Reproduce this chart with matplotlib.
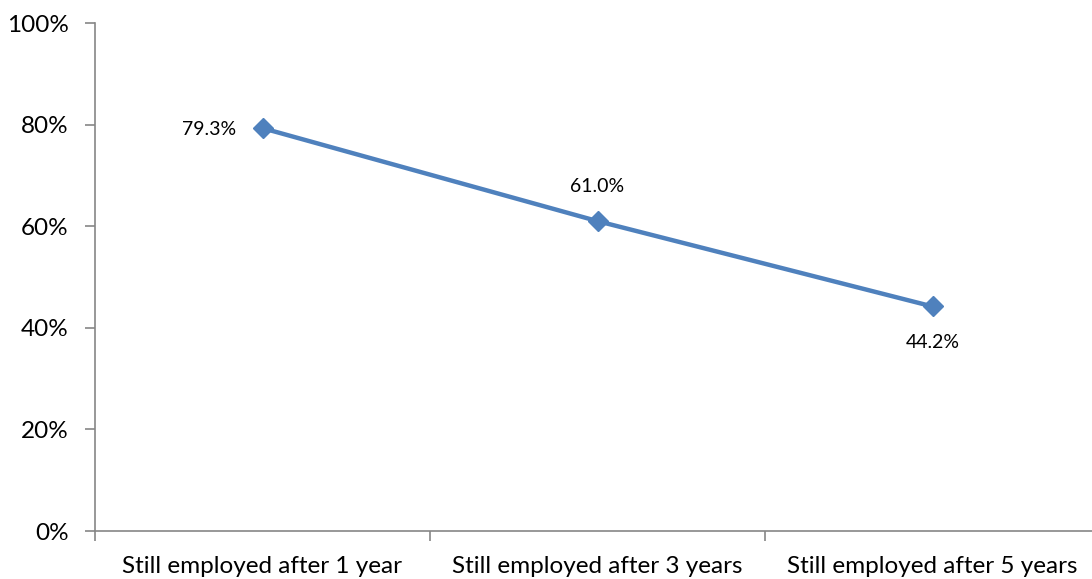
import matplotlib
matplotlib.use("Agg")
import matplotlib.pyplot as plt
from matplotlib.ticker import FuncFormatter

categories = ["Still employed after 1 year", "Still employed after 3 years", "Still employed after 5 years"]
values = [79.3, 61.0, 44.2]
value_labels = ["79.3%", "61.0%", "44.2%"]
yticks = [0, 20, 40, 60, 80, 100]

plt.rcParams['font.family'] = ['Lato', 'DejaVu Sans']

W, H = 1092, 579
fig = plt.figure(figsize=(W/100, H/100), dpi=100)
ax = fig.add_axes([95/W, 1 - 531/H, 1005/W, (531-23)/H])

x = list(range(len(categories)))
ax.plot(x, values, color="#4F81BD", linewidth=3.2, marker="D", markersize=10,
        markerfacecolor="#4F81BD", markeredgecolor="#4F81BD", zorder=3, clip_on=False)

# data labels
ax.annotate(value_labels[0], (x[0], values[0]), xytext=(-19, -1), textcoords="offset points",
            ha="right", va="center", fontsize=14)
ax.annotate(value_labels[1], (x[1], values[1]), xytext=(0, 25), textcoords="offset points",
            ha="center", va="center", fontsize=14)
ax.annotate(value_labels[2], (x[2], values[2]), xytext=(0, -26), textcoords="offset points",
            ha="center", va="center", fontsize=14)

ax.set_xlim(-0.5, len(categories) - 0.5)
ax.set_ylim(0, 100)
ax.set_yticks(yticks)
ax.yaxis.set_major_formatter(FuncFormatter(lambda v, p: f"{int(v)}%"))
ax.set_xticks(x)
ax.set_xticklabels(categories)
ax.set_xticks([i - 0.5 for i in range(len(categories) + 1)], minor=True)

for s in ["top", "right"]:
    ax.spines[s].set_visible(False)
for s in ["left", "bottom"]:
    ax.spines[s].set_color("#868686")
    ax.spines[s].set_linewidth(1.2)

ax.tick_params(axis="y", which="major", length=7, width=1.2, color="#868686",
               labelsize=17.5, pad=12, labelcolor="black")
ax.tick_params(axis="x", which="major", length=0, labelsize=17.5, pad=18, labelcolor="black")
ax.tick_params(axis="x", which="minor", length=7, width=1.2, color="#868686")

fig.savefig("out.png", dpi=100, facecolor="white")
